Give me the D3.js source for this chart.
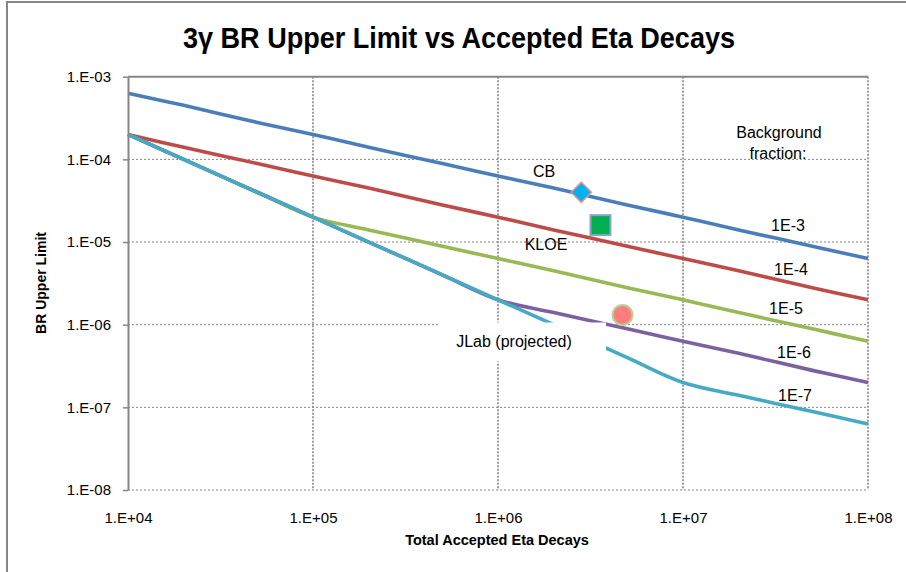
<!DOCTYPE html>
<html>
<head>
<meta charset="utf-8">
<script src="https://cdn.jsdelivr.net/npm/d3@7"></script>
<style>
  body { margin: 0; background: #fff; }
  text { font-family: "Liberation Sans", Arial, sans-serif; }
</style>
</head>
<body>
<div class="chart"></div>
<script>
// decays sampled along x
const decays = [1e4, 2e4, 5e4, 1e5, 2e5, 5e5, 1e6, 2e6, 5e6, 1e7, 2e7, 5e7, 1e8];

// BR upper limit per background fraction
const bg1e3 = [6.3e-4, 4.5e-4, 2.8e-4, 2.0e-4, 1.4e-4, 8.9e-5, 6.3e-5, 4.5e-5, 2.8e-5, 2.0e-5, 1.4e-5, 8.9e-6, 6.3e-6];
const bg1e4 = [2.0e-4, 1.4e-4, 8.9e-5, 6.3e-5, 4.5e-5, 2.8e-5, 2.0e-5, 1.4e-5, 8.9e-6, 6.3e-6, 4.5e-6, 2.8e-6, 2.0e-6];
const bg1e5 = [2.0e-4, 1.0e-4, 4.0e-5, 2.0e-5, 1.4e-5, 8.9e-6, 6.3e-6, 4.5e-6, 2.8e-6, 2.0e-6, 1.4e-6, 8.9e-7, 6.3e-7];
const bg1e6 = [2.0e-4, 1.0e-4, 4.0e-5, 2.0e-5, 1.0e-5, 4.0e-6, 2.0e-6, 1.4e-6, 8.9e-7, 6.3e-7, 4.5e-7, 2.8e-7, 2.0e-7];
const bg1e7 = [2.0e-4, 1.0e-4, 4.0e-5, 2.0e-5, 1.0e-5, 4.0e-6, 2.0e-6, 1.0e-6, 4.0e-7, 2.0e-7, 1.4e-7, 8.9e-8, 6.3e-8];

const seriesNames = ["1E-3", "1E-4", "1E-5", "1E-6", "1E-7"];
const seriesValues = [bg1e3, bg1e4, bg1e5, bg1e6, bg1e7];
const seriesColors = ["#4A7EBB", "#BE4B48", "#98B954", "#7D60A0", "#46AAC5"];

// experiments
const expNames = ["CB", "KLOE", "JLab (projected)"];
const expDecays = [2.82e6, 3.58e6, 4.71e6];
const expLimits = [4.0e-5, 1.6e-5, 1.31e-6];

const xTicks = [1e4, 1e5, 1e6, 1e7, 1e8];
const yTicks = [1e-8, 1e-7, 1e-6, 1e-5, 1e-4, 1e-3];

const W = 906, H = 572;
const margin = {top: 76.7, left: 128, right: 38, bottom: 82};
const width = W - margin.left - margin.right,
      height = H - margin.top - margin.bottom;

const svg = d3.select(".chart")
    .append("svg")
    .attr("width", W)
    .attr("height", H);

// outer chart border (only top/left visible)
svg.append("rect")
    .attr("x", 7).attr("y", 2)
    .attr("width", 940).attr("height", 620)
    .attr("fill", "none")
    .attr("stroke", "#868686")
    .attr("stroke-width", 2);

svg.append("text")
    .attr("x", 459).attr("y", 48)
    .attr("text-anchor", "middle")
    .attr("font-size", 29)
    .attr("font-weight", "bold")
    .attr("textLength", 552)
    .attr("lengthAdjust", "spacingAndGlyphs")
    .text("3γ BR Upper Limit vs Accepted Eta Decays");

const gr = svg.append("g")
    .attr("transform", "translate(" + margin.left + "," + margin.top + ")");

const xScale = d3.scaleLog().domain([1e4, 1e8]).range([0, width]);
const yScale = d3.scaleLog().domain([1e-8, 1e-3]).range([height, 0]);

const fmtX = d => "1.E+" + String(Math.round(Math.log10(d))).padStart(2, "0");
const fmtY = d => "1.E-" + String(Math.round(-Math.log10(d))).padStart(2, "0");

// grid
gr.append("g")
    .selectAll("line")
    .data(yTicks.slice(0, -1))
    .join("line")
    .attr("x1", 0).attr("x2", width)
    .attr("y1", d => yScale(d)).attr("y2", d => yScale(d))
    .attr("stroke", "#868686")
    .attr("stroke-width", 1)
    .attr("stroke-dasharray", "2,2");

gr.append("g")
    .selectAll("line")
    .data(xTicks.slice(1))
    .join("line")
    .attr("x1", d => xScale(d)).attr("x2", d => xScale(d))
    .attr("y1", 0).attr("y2", height)
    .attr("stroke", "#868686")
    .attr("stroke-width", 1.6)
    .attr("stroke-dasharray", "2,1.5");

// series lines (smoothed like the spreadsheet)
const line = d3.line()
    .x((d, i) => xScale(decays[i]))
    .y(d => yScale(d))
    .curve(d3.curveCatmullRom.alpha(0.5));

gr.append("g")
    .selectAll("path")
    .data(seriesValues)
    .join("path")
    .attr("d", line)
    .attr("fill", "none")
    .attr("stroke", (d, i) => seriesColors[i])
    .attr("stroke-width", 3.6);

// axes
const yAxis = d3.axisLeft(yScale)
    .tickValues(yTicks)
    .tickFormat(fmtY)
    .tickSizeInner(5)
    .tickSizeOuter(0)
    .tickPadding(12);

const yAxGr = gr.append("g")
    .attr("class", "axis y-axis")
    .call(yAxis);
yAxGr.select(".domain").attr("stroke", "#868686").attr("stroke-width", 2);
yAxGr.selectAll(".tick line").attr("stroke", "#868686").attr("stroke-width", 1.5);
yAxGr.selectAll(".tick text")
    .attr("font-family", "Liberation Sans, Arial, sans-serif")
    .attr("font-size", 15).attr("fill", "#000");

// horizontal axis line sits at the top of the plot
gr.append("line")
    .attr("x1", 0).attr("x2", width)
    .attr("y1", 0).attr("y2", 0)
    .attr("stroke", "#868686")
    .attr("stroke-width", 2);

const xAxis = d3.axisBottom(xScale)
    .tickValues(xTicks)
    .tickFormat(fmtX)
    .tickSize(0)
    .tickPadding(22);

const xAxGr = gr.append("g")
    .attr("class", "axis x-axis")
    .attr("transform", "translate(0," + height + ")")
    .call(xAxis);
xAxGr.select(".domain").remove();
xAxGr.selectAll(".tick text")
    .attr("font-family", "Liberation Sans, Arial, sans-serif")
    .attr("font-size", 15).attr("fill", "#000");

// axis titles
svg.append("text")
    .attr("transform", "translate(46,283) rotate(-90)")
    .attr("text-anchor", "middle")
    .attr("font-size", 14)
    .attr("font-weight", "bold")
    .text("BR Upper Limit");

svg.append("text")
    .attr("x", 497).attr("y", 545)
    .attr("text-anchor", "middle")
    .attr("font-size", 14.5)
    .attr("font-weight", "bold")
    .text("Total Accepted Eta Decays");

// markers
const cbX = xScale(expDecays[0]), cbY = yScale(expLimits[0]);
gr.append("path")
    .attr("d", d3.symbol(d3.symbolDiamond2, 260)())
    .attr("transform", "translate(" + cbX + "," + cbY + ")")
    .attr("fill", "#00B0F0")
    .attr("stroke", "#E5938F")
    .attr("stroke-width", 1.5);

const kX = xScale(expDecays[1]), kY = yScale(expLimits[1]);
gr.append("rect")
    .attr("x", kX - 10).attr("y", kY - 10)
    .attr("width", 20).attr("height", 20)
    .attr("fill", "#00B050")
    .attr("stroke", "#8EA4CC")
    .attr("stroke-width", 2);

const jX = xScale(expDecays[2]), jY = yScale(expLimits[2]);
gr.append("circle")
    .attr("cx", jX).attr("cy", jY).attr("r", 10)
    .attr("fill", "#FF7C80")
    .attr("stroke", "#B5D591")
    .attr("stroke-width", 2);

// annotation labels
svg.append("rect")
    .attr("x", 439).attr("y", 322.5)
    .attr("width", 167).attr("height", 39)
    .attr("fill", "#fff");

const notes = [
    {t: expNames[0], x: 544, y: 177},
    {t: expNames[1], x: 546, y: 250},
    {t: expNames[2], x: 514, y: 347},
    {t: "Background", x: 779, y: 138},
    {t: "fraction:", x: 778, y: 159},
    {t: seriesNames[0], x: 788, y: 231},
    {t: seriesNames[1], x: 791, y: 275},
    {t: seriesNames[2], x: 786, y: 314},
    {t: seriesNames[3], x: 794, y: 358},
    {t: seriesNames[4], x: 795, y: 401}
];

svg.append("g")
    .selectAll("text")
    .data(notes)
    .join("text")
    .attr("x", d => d.x).attr("y", d => d.y)
    .attr("text-anchor", "middle")
    .attr("font-size", 16)
    .attr("fill", "#000")
    .text(d => d.t);
</script>
</body>
</html>
